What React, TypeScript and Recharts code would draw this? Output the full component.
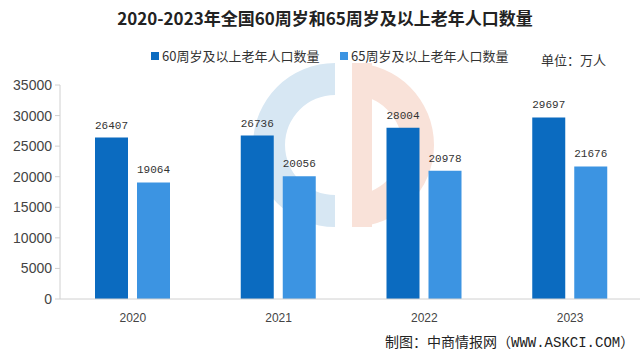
import React from "react";
import { BarChart, Bar, XAxis, YAxis, LabelList } from "recharts";

const years = ["2020", "2021", "2022", "2023"];
const over60 = [26407, 26736, 28004, 29697];
const over65 = [19064, 20056, 20978, 21676];
const yTicks = [0, 5000, 10000, 15000, 20000, 25000, 30000, 35000];

const seriesNames = ["60周岁及以上老年人口数量", "65周岁及以上老年人口数量"];
const colors = ["#0b6bc0", "#3c94e2"];

const data = years.map((year, i) => ({ year, over60: over60[i], over65: over65[i] }));

const cjk = '"Noto Sans CJK SC", "Liberation Sans", sans-serif';
const mono = '"Liberation Mono", "Noto Sans CJK SC", monospace';

function XTick(props: any) {
  const { x, y, payload } = props;
  return (
    <text x={x} y={y + 15} textAnchor="middle" fontSize={12} fill="#444" fontFamily='"Liberation Sans", sans-serif'>
      {payload.value}
    </text>
  );
}

// faint logo watermark behind the bars
function Watermark() {
  return (
    <svg width={640} height={356} style={{ position: "absolute", left: 0, top: 0 }}>
      <path d="M 335 63 A 82 82 0 0 0 335 227 L 335 195 A 50 50 0 0 1 335 95 Z" fill="#d7e7f3" />
      <path d="M 352 63 A 82 82 0 0 1 352 227 L 352 195 A 50 50 0 0 0 352 95 Z" fill="#f9e2d9" />
      <rect x={352} y={63} width={20} height={164} fill="#f9e2d9" />
    </svg>
  );
}

export default function App() {
  return (
    <div
      style={{
        position: "absolute",
        left: 0,
        top: 0,
        width: 640,
        height: 356,
        overflow: "hidden",
        background: "#fff",
        fontFamily: cjk,
      }}
    >
      <Watermark />
      <div
        style={{
          position: "absolute",
          left: 0,
          width: 650,
          top: 5,
          textAlign: "center",
          fontSize: 17,
          fontWeight: "bold",
          color: "#222",
        }}
      >
        2020-2023年全国60周岁和65周岁及以上老年人口数量
      </div>

      {seriesNames.map((name, i) => (
        <div
          key={name}
          style={{
            position: "absolute",
            left: i === 0 ? 151 : 340,
            top: 46,
            display: "flex",
            alignItems: "center",
            fontSize: 13,
            color: "#333",
          }}
        >
          <span style={{ width: 8, height: 8, background: colors[i], marginRight: 3 }} />
          {name}
        </div>
      ))}
      <div style={{ position: "absolute", left: 541, top: 50, fontSize: 13, color: "#333" }}>单位：万人</div>

      <div style={{ position: "absolute", left: 0, top: 0 }}>
        <BarChart
          width={660}
          height={356}
          data={data}
          margin={{ top: 85, right: 17, left: 0, bottom: 27 }}
          barGap={9}
          barSize={33}
        >
          <XAxis
            dataKey="year"
            height={30}
            tickLine={false}
            axisLine={{ stroke: "#d0d0d0" }}
            tick={<XTick />}
          />
          <YAxis
            domain={[0, 35000]}
            ticks={yTicks}
            width={60}
            interval={0}
            tickSize={5}
            tickMargin={3}
            tickLine={{ stroke: "#d0d0d0" }}
            axisLine={{ stroke: "#d0d0d0" }}
            tick={{ fontSize: 14, fill: "#444", fontFamily: '"Liberation Sans", sans-serif' }}
          />
          <Bar dataKey="over60" fill={colors[0]} isAnimationActive={false}>
            <LabelList dataKey="over60" position="top" offset={9} fontSize={11} fill="#333" fontFamily={mono} />
          </Bar>
          <Bar dataKey="over65" fill={colors[1]} isAnimationActive={false}>
            <LabelList dataKey="over65" position="top" offset={9} fontSize={11} fill="#333" fontFamily={mono} />
          </Bar>
        </BarChart>
      </div>

      <div
        style={{
          position: "absolute",
          left: 385,
          top: 331,
          fontSize: 14,
          color: "#222",
          fontFamily: mono,
        }}
      >
        制图：中商情报网（WWW.ASKCI.COM）
      </div>
    </div>
  );
}
